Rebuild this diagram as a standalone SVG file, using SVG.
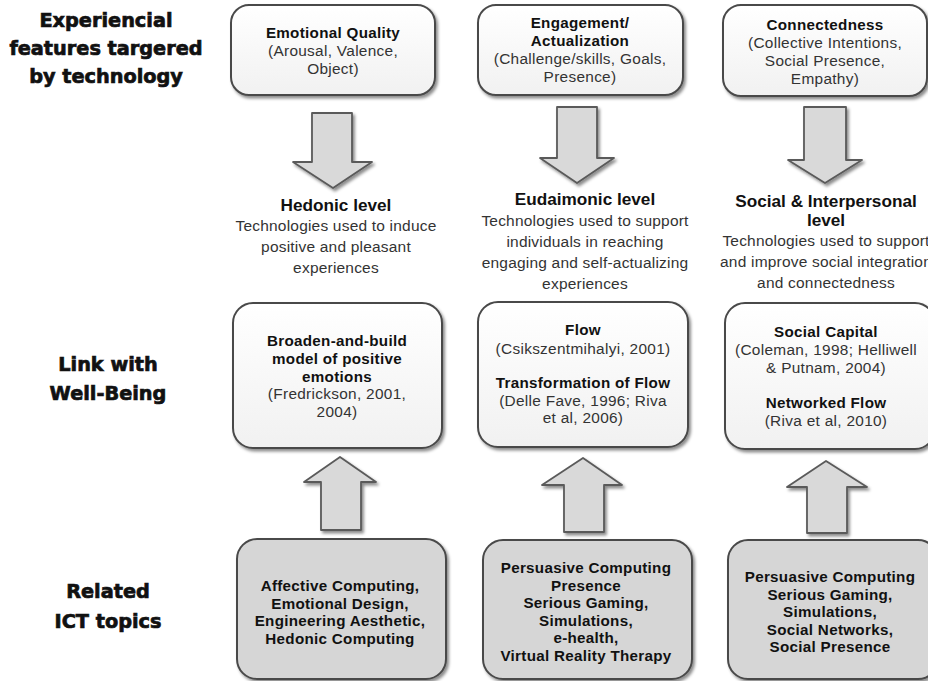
<svg xmlns="http://www.w3.org/2000/svg" width="928" height="681" viewBox="0 0 928 681">
<defs>
<filter id="sh" x="-10%" y="-10%" width="125%" height="125%">
<feDropShadow dx="2" dy="2.5" stdDeviation="1.6" flood-color="#000" flood-opacity="0.45"/>
</filter>
<linearGradient id="wg" x1="0" y1="0" x2="0" y2="1">
<stop offset="0" stop-color="#ffffff"/>
<stop offset="1" stop-color="#f1f1f1"/>
</linearGradient>
</defs>
<style>
.box{fill:url(#wg);stroke:#4a4a4a;stroke-width:2;filter:url(#sh)}
.gbox{fill:#d6d6d6;stroke:#4a4a4a;stroke-width:2;filter:url(#sh)}
.arr{fill:#d9d9d9;stroke:#5a5a5a;stroke-width:1.8;stroke-linejoin:round;filter:url(#sh)}
.lab{font-family:"DejaVu Sans",Verdana,sans-serif;font-weight:bold;font-size:19.3px;fill:#111;stroke:#111;stroke-width:0.7;text-anchor:middle}
.b{font-family:"Liberation Sans",Arial,sans-serif;font-weight:bold;font-size:15.2px;fill:#111;text-anchor:middle;letter-spacing:0.3px}
.n{font-family:"Liberation Sans",Arial,sans-serif;font-size:15.4px;fill:#333;text-anchor:middle;letter-spacing:0.3px}
.h{font-family:"Liberation Sans",Arial,sans-serif;font-weight:bold;font-size:17.2px;fill:#111;text-anchor:middle}
.s{font-family:"Liberation Sans",Arial,sans-serif;font-size:15.5px;fill:#333;text-anchor:middle;letter-spacing:0.2px}
</style>
<rect width="928" height="681" fill="#fff"/>

<g id="label-experiencial">
<text class="lab" x="106" y="27">Experiencial</text>
<text class="lab" x="106" y="55">features targered</text>
<text class="lab" x="106" y="83">by technology</text>
</g>
<g id="label-link">
<text class="lab" x="108" y="371">Link with</text>
<text class="lab" x="108" y="400">Well-Being</text>
</g>
<g id="label-ict">
<text class="lab" x="108" y="598">Related</text>
<text class="lab" x="108" y="628">ICT topics</text>
</g>

<g id="connectors">
<path class="arr" d="M312,113 H352 V162 H372 L333,188 L293,162 H312 Z"/>
<path class="arr" d="M557,107 H597 V158 H614 L577,183 L540,158 H557 Z"/>
<path class="arr" d="M804,107 H846 V160 H862 L825,183 L788,160 H804 Z"/>
<path class="arr" d="M321,530 V482 H304 L340,457 L376,482 H361 V530 Z"/>
<path class="arr" d="M564,532 V485 H542 L583,458 L622,485 H604 V532 Z"/>
<path class="arr" d="M807,533 V487 H787 L826,461 L867,487 H847 V533 Z"/>
</g>

<g id="emotional-quality">
<rect class="box" x="231" y="5" width="204" height="90" rx="18"/>
<text class="b" x="333" y="38">Emotional Quality</text>
<text class="n" x="333" y="56">(Arousal, Valence,</text>
<text class="n" x="333" y="74">Object)</text>
</g>
<g id="engagement">
<rect class="box" x="478" y="5" width="205" height="90" rx="18"/>
<text class="b" x="580" y="28">Engagement/</text>
<text class="b" x="580" y="46">Actualization</text>
<text class="n" x="580" y="64">(Challenge/skills, Goals,</text>
<text class="n" x="580" y="82">Presence)</text>
</g>
<g id="connectedness">
<rect class="box" x="723" y="5" width="204" height="91" rx="18"/>
<text class="b" x="825" y="30">Connectedness</text>
<text class="n" x="825" y="48">(Collective Intentions,</text>
<text class="n" x="825" y="66">Social Presence,</text>
<text class="n" x="825" y="84">Empathy)</text>
</g>

<g id="hedonic-level">
<text class="h" x="336" y="211">Hedonic level</text>
<text class="s" x="336" y="231">Technologies used to induce</text>
<text class="s" x="336" y="252">positive and pleasant</text>
<text class="s" x="336" y="273">experiences</text>
</g>
<g id="eudaimonic-level">
<text class="h" x="585" y="205">Eudaimonic level</text>
<text class="s" x="585" y="226">Technologies used to support</text>
<text class="s" x="585" y="247">individuals in reaching</text>
<text class="s" x="585" y="268">engaging and self-actualizing</text>
<text class="s" x="585" y="289">experiences</text>
</g>
<g id="social-level">
<text class="h" x="826" y="207">Social &amp; Interpersonal</text>
<text class="h" x="826" y="226">level</text>
<text class="s" x="826" y="246">Technologies used to support</text>
<text class="s" x="826" y="267">and improve social integration</text>
<text class="s" x="826" y="288">and connectedness</text>
</g>

<g id="broaden-and-build">
<rect class="box" x="233" y="303" width="209" height="145" rx="20"/>
<text class="b" x="337" y="346">Broaden-and-build</text>
<text class="b" x="337" y="364">model of positive</text>
<text class="b" x="337" y="382">emotions</text>
<text class="n" x="337" y="399">(Fredrickson, 2001,</text>
<text class="n" x="337" y="417">2004)</text>
</g>
<g id="flow">
<rect class="box" x="478" y="302" width="210" height="145" rx="20"/>
<text class="b" x="583" y="335">Flow</text>
<text class="n" x="583" y="354">(Csikszentmihalyi, 2001)</text>
<text class="b" x="583" y="388">Transformation of Flow</text>
<text class="n" x="583" y="406">(Delle Fave, 1996; Riva</text>
<text class="n" x="583" y="423">et al, 2006)</text>
</g>
<g id="social-capital">
<rect class="box" x="725" y="303" width="210" height="146" rx="20"/>
<text class="b" x="826" y="337">Social Capital</text>
<text class="n" x="826" y="355">(Coleman, 1998; Helliwell</text>
<text class="n" x="826" y="373">&amp; Putnam, 2004)</text>
<text class="b" x="826" y="408">Networked Flow</text>
<text class="n" x="826" y="426">(Riva et al, 2010)</text>
</g>

<g id="ict-hedonic">
<rect class="gbox" x="237" y="539" width="209" height="140" rx="20"/>
<text class="b" x="340" y="591">Affective Computing,</text>
<text class="b" x="340" y="609">Emotional Design,</text>
<text class="b" x="340" y="626">Engineering Aesthetic,</text>
<text class="b" x="340" y="644">Hedonic Computing</text>
</g>
<g id="ict-eudaimonic">
<rect class="gbox" x="483" y="540" width="209" height="139" rx="20"/>
<text class="b" x="586" y="573">Persuasive Computing</text>
<text class="b" x="586" y="591">Presence</text>
<text class="b" x="586" y="608">Serious Gaming,</text>
<text class="b" x="586" y="626">Simulations,</text>
<text class="b" x="586" y="643">e-health,</text>
<text class="b" x="586" y="661">Virtual Reality Therapy</text>
</g>
<g id="ict-social">
<rect class="gbox" x="728" y="540" width="210" height="139" rx="20"/>
<text class="b" x="830" y="582">Persuasive Computing</text>
<text class="b" x="830" y="600">Serious Gaming,</text>
<text class="b" x="830" y="617">Simulations,</text>
<text class="b" x="830" y="635">Social Networks,</text>
<text class="b" x="830" y="652">Social Presence</text>
</g>
</svg>
